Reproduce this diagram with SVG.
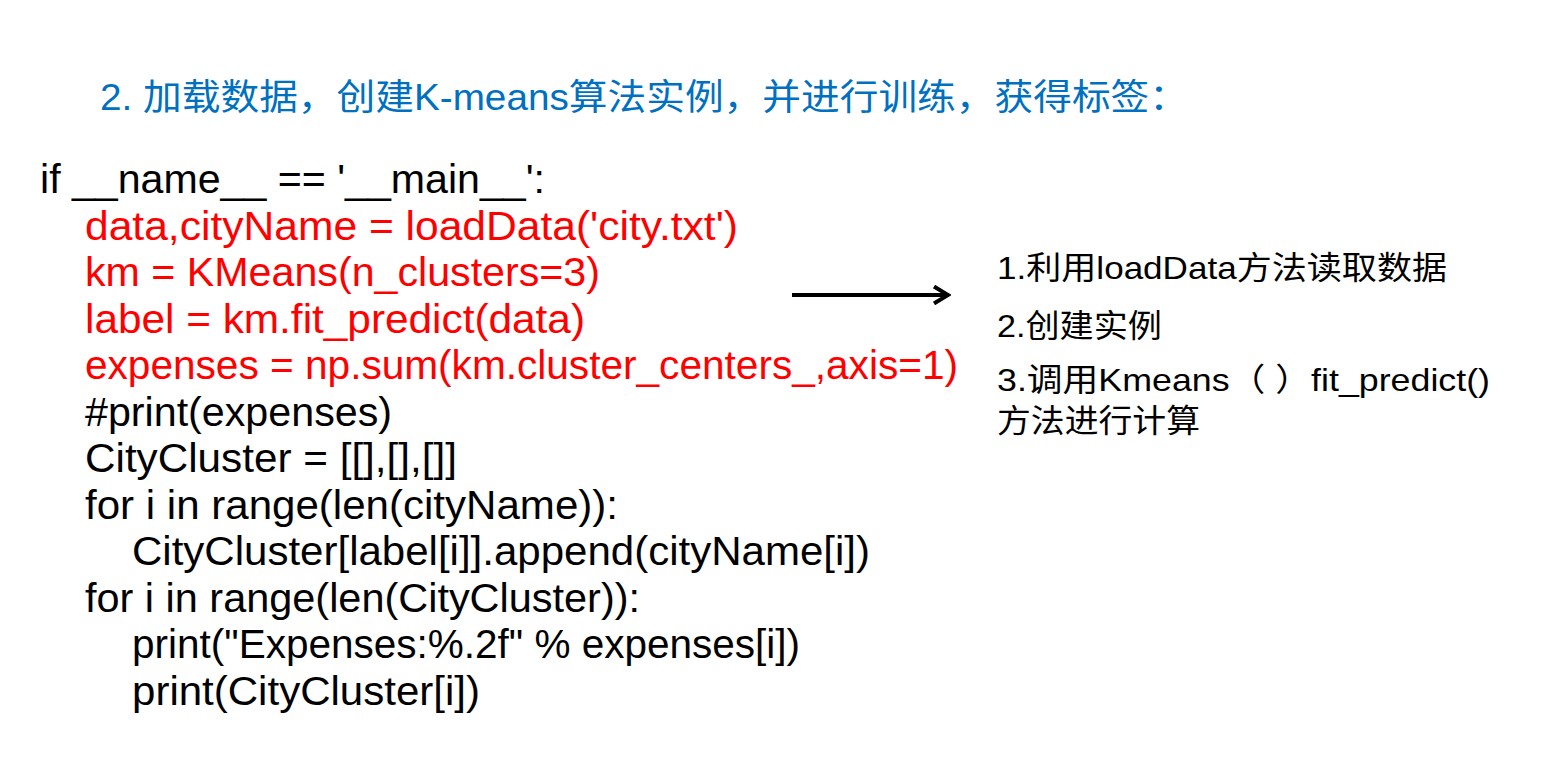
<svg xmlns="http://www.w3.org/2000/svg" width="1542" height="774" viewBox="0 0 1542 774">
<defs>
<style>
text{font-family:"Liberation Sans","Noto Sans CJK SC",sans-serif;}
.title{font-size:36px;fill:#0070C0;}
.code{font-size:40px;fill:#000000;}
.red{fill:#FF0000;}
.note{font-size:32px;fill:#000000;}
</style>
<marker id="arr" viewBox="0 0 20 20" refX="17" refY="10" markerWidth="20" markerHeight="20" markerUnits="userSpaceOnUse" orient="auto">
<path d="M3,1.5 L17,10 L3,18.5" fill="none" stroke="#000" stroke-width="4"/>
</marker>
</defs>
<rect width="1542" height="774" fill="#ffffff"/>
<g id="title">
<text class="title" x="100" y="110" textLength="1088" lengthAdjust="spacingAndGlyphs">2. 加载数据，创建K-means算法实例，并进行训练，获得标签：</text>
</g>
<g id="code">
<text class="code" x="40" y="193" textLength="505" lengthAdjust="spacingAndGlyphs">if __name__ == '__main__':</text>
<text class="code red" x="85" y="239.5" textLength="653" lengthAdjust="spacingAndGlyphs">data,cityName = loadData('city.txt')</text>
<text class="code red" x="85" y="286" textLength="515" lengthAdjust="spacingAndGlyphs">km = KMeans(n_clusters=3)</text>
<text class="code red" x="85" y="332.5" textLength="500" lengthAdjust="spacingAndGlyphs">label = km.fit_predict(data)</text>
<text class="code red" x="85" y="379" textLength="873" lengthAdjust="spacingAndGlyphs">expenses = np.sum(km.cluster_centers_,axis=1)</text>
<text class="code" x="85" y="425.5" textLength="307" lengthAdjust="spacingAndGlyphs">#print(expenses)</text>
<text class="code" x="85" y="472" textLength="372" lengthAdjust="spacingAndGlyphs">CityCluster = [[],[],[]]</text>
<text class="code" x="85" y="518.5" textLength="533" lengthAdjust="spacingAndGlyphs">for i in range(len(cityName)):</text>
<text class="code" x="132" y="565" textLength="738" lengthAdjust="spacingAndGlyphs">CityCluster[label[i]].append(cityName[i])</text>
<text class="code" x="85" y="611.5" textLength="555" lengthAdjust="spacingAndGlyphs">for i in range(len(CityCluster)):</text>
<text class="code" x="132" y="658" textLength="668" lengthAdjust="spacingAndGlyphs">print("Expenses:%.2f" % expenses[i])</text>
<text class="code" x="132" y="704.5" textLength="348" lengthAdjust="spacingAndGlyphs">print(CityCluster[i])</text>
</g>
<g id="connectors">
<line x1="792" y1="295" x2="948" y2="295" stroke="#000" stroke-width="4" marker-end="url(#arr)"/>
</g>
<g id="notes">
<text class="note" x="997" y="279" textLength="450" lengthAdjust="spacingAndGlyphs">1.利用loadData方法读取数据</text>
<text class="note" x="997" y="337" textLength="165" lengthAdjust="spacingAndGlyphs">2.创建实例</text>
<text class="note" x="997" y="391" textLength="493" lengthAdjust="spacingAndGlyphs">3.调用Kmeans（ ）fit_predict()</text>
<text class="note" x="997" y="432" textLength="203" lengthAdjust="spacingAndGlyphs">方法进行计算</text>
</g>
</svg>
